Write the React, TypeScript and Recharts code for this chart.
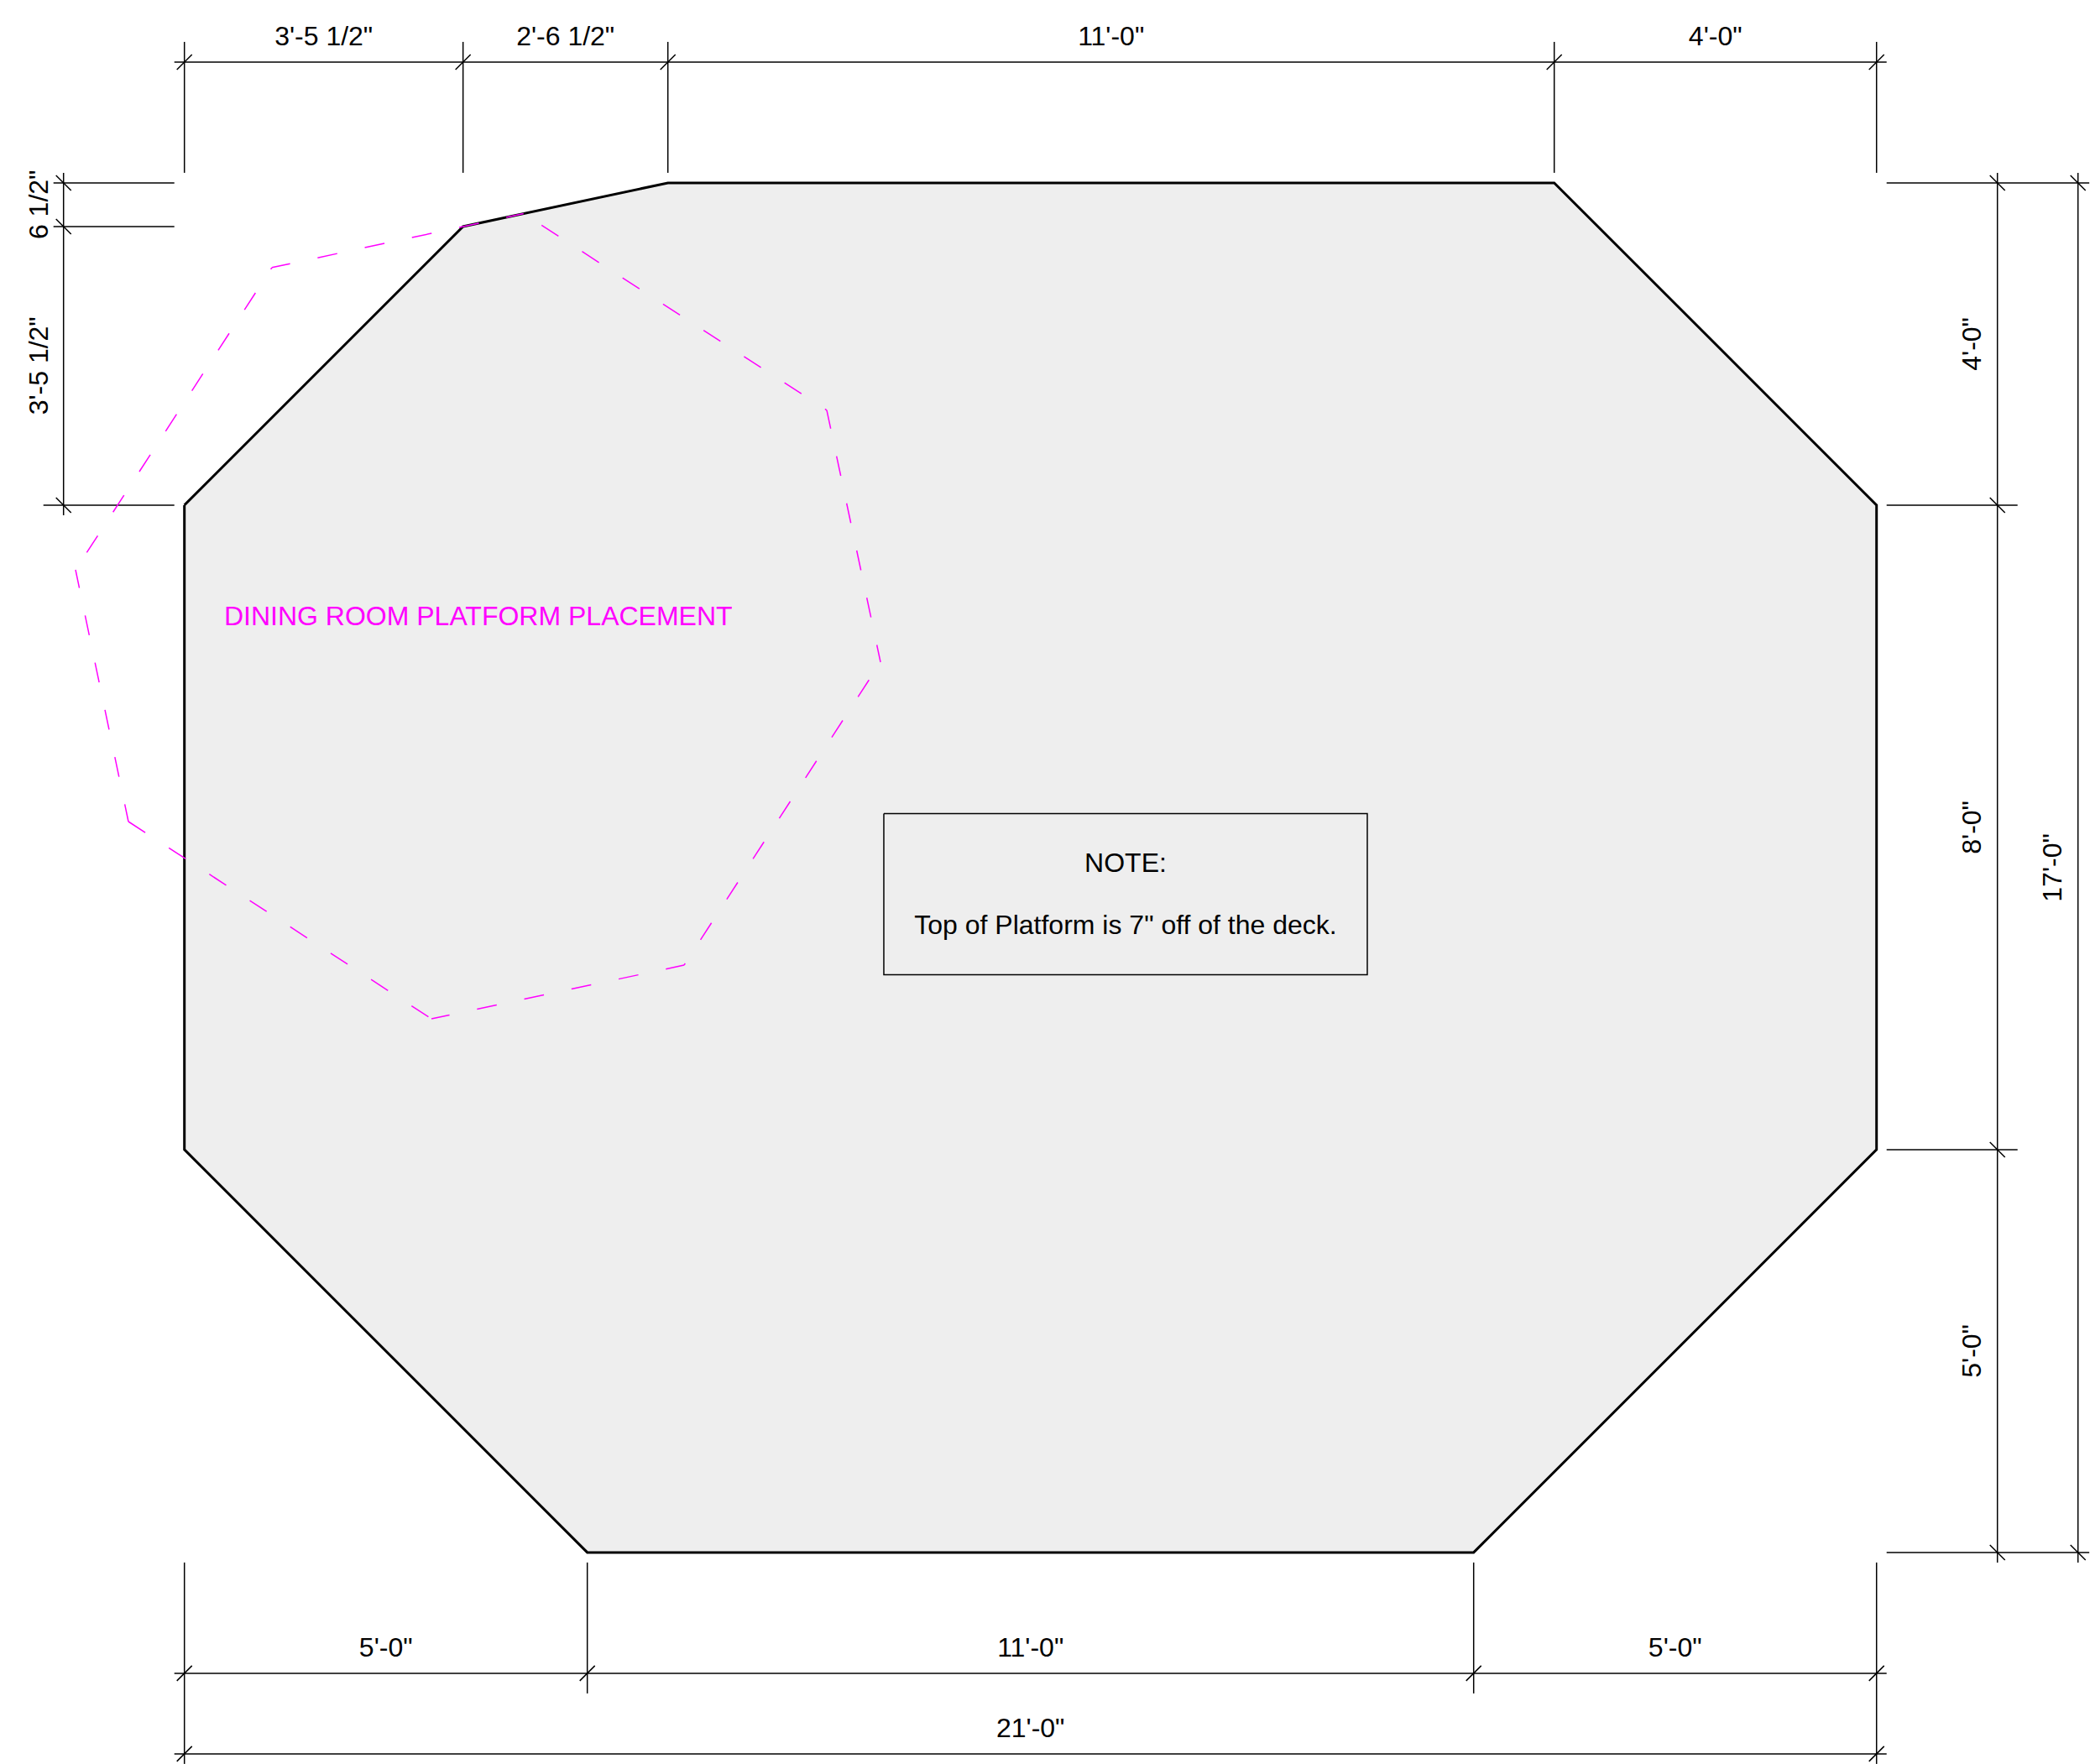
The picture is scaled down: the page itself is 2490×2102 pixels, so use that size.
import { Area, ComposedChart, Line, Scatter, XAxis, YAxis } from 'recharts';

// everything below is in feet, measured from the top left corner of the deck
const deckOutline = [
  { x: 0, y: 4 }, { x: 3.458, y: 0.5417 }, { x: 6, y: 0 }, { x: 17, y: 0 }, { x: 21, y: 4 },
  { x: 21, y: 12 }, { x: 16, y: 17 }, { x: 5, y: 17 }, { x: 0, y: 12 }, { x: 0, y: 4 },
];

const deckFill = [
  { x: 0, span: [4, 12] },
  { x: 3.458, span: [0.5417, 15.458] },
  { x: 5, span: [0.2131, 17] },
  { x: 6, span: [0, 17] },
  { x: 16, span: [0, 17] },
  { x: 17, span: [0, 16] },
  { x: 21, span: [4, 12] },
];

const platformOutline = [
  { x: -0.695, y: 7.928 }, { x: 3.066, y: 10.376 }, { x: 6.201, y: 9.71 }, { x: 8.639, y: 5.949 },
  { x: 7.972, y: 2.822 }, { x: 4.209, y: 0.381 }, { x: 1.086, y: 1.051 }, { x: -1.351, y: 4.803 },
  { x: -0.695, y: 7.928 },
];

const noteBox = [
  { x: 8.68, y: 7.83 }, { x: 14.68, y: 7.83 }, { x: 14.68, y: 9.83 }, { x: 8.68, y: 9.83 }, { x: 8.68, y: 7.83 },
];

// [x1, y1, x2, y2]
const dimensionLines = [
  [-0.125, -1.5, 21.125, -1.5],
  [-0.125, 18.5, 21.125, 18.5],
  [-0.125, 19.5, 21.125, 19.5],
  [-1.5, -0.125, -1.5, 4.125],
  [22.5, -0.125, 22.5, 17.125],
  [23.5, -0.125, 23.5, 17.125],
];

const extensionLines = [
  [0, -1.75, 0, -0.125],
  [3.458, -1.75, 3.458, -0.125],
  [6, -1.75, 6, -0.125],
  [17, -1.75, 17, -0.125],
  [21, -1.75, 21, -0.125],
  [0, 17.125, 0, 19.625],
  [5, 17.125, 5, 18.75],
  [16, 17.125, 16, 18.75],
  [21, 17.125, 21, 19.625],
  [-1.625, 0, -0.125, 0],
  [-1.625, 0.5417, -0.125, 0.5417],
  [-1.75, 4, -0.125, 4],
  [21.125, 0, 23.64, 0],
  [21.125, 4, 22.75, 4],
  [21.125, 12, 22.75, 12],
  [21.125, 17, 23.64, 17],
];

const forwardTicks = [
  { x: 0, y: -1.5 }, { x: 3.458, y: -1.5 }, { x: 6, y: -1.5 }, { x: 17, y: -1.5 }, { x: 21, y: -1.5 },
  { x: 0, y: 18.5 }, { x: 5, y: 18.5 }, { x: 16, y: 18.5 }, { x: 21, y: 18.5 },
  { x: 0, y: 19.5 }, { x: 21, y: 19.5 },
];

const backTicks = [
  { x: -1.5, y: 0 }, { x: -1.5, y: 0.5417 }, { x: -1.5, y: 4 },
  { x: 22.5, y: 0 }, { x: 22.5, y: 4 }, { x: 22.5, y: 12 }, { x: 22.5, y: 17 },
  { x: 23.5, y: 0 }, { x: 23.5, y: 17 },
];

const horizontalLabels = [
  { x: 1.729, y: -1.711, label: '3\'-5 1/2"' },
  { x: 4.729, y: -1.711, label: '2\'-6 1/2"' },
  { x: 11.5, y: -1.711, label: '11\'-0"' },
  { x: 19, y: -1.711, label: '4\'-0"' },
  { x: 2.5, y: 18.29, label: '5\'-0"' },
  { x: 10.5, y: 18.29, label: '11\'-0"' },
  { x: 18.5, y: 18.29, label: '5\'-0"' },
  { x: 10.5, y: 19.29, label: '21\'-0"' },
  { x: 11.68, y: 8.55, label: 'NOTE:' },
  { x: 11.68, y: 9.32, label: 'Top of Platform is 7" off of the deck.' },
];

const verticalLabels = [
  { x: -1.698, y: 0.27, label: '6 1/2"' },
  { x: -1.698, y: 2.27, label: '3\'-5 1/2"' },
  { x: 22.29, y: 2, label: '4\'-0"' },
  { x: 22.29, y: 8, label: '8\'-0"' },
  { x: 22.29, y: 14.5, label: '5\'-0"' },
  { x: 23.29, y: 8.5, label: '17\'-0"' },
];

const platformLabel = [{ x: 0.492, y: 5.487, label: 'DINING ROOM PLATFORM PLACEMENT' }];

const INK = '#000000';
const MAGENTA = '#ff00ff';
const FONT = '"Liberation Sans", Arial, sans-serif';

// the dashes restart on each edge of the platform, these are the offsets
const DASH = 24;
const GAP = 33.5;
const edgeDashStart = [0, -2, 36, -3, 36, -3, 36, -2];

const toPoints = ([x1, y1, x2, y2]: number[]) => [{ x: x1, y: y1 }, { x: x2, y: y2 }];

const slash = (dir: 1 | -1) => (props: any) => (
  <line
    x1={props.cx - 9}
    y1={props.cy + 9 * dir}
    x2={props.cx + 9}
    y2={props.cy - 9 * dir}
    stroke={INK}
    strokeWidth={1.5}
  />
);

const textShape = (color: string, vertical = false) => (props: any) => (
  <text
    x={props.cx}
    y={props.cy}
    fill={color}
    fontFamily={FONT}
    fontSize={32}
    textAnchor={color === MAGENTA ? 'start' : 'middle'}
    transform={vertical ? `rotate(-90 ${props.cx} ${props.cy})` : undefined}
  >
    {props.payload.label}
  </text>
);

export default function App() {
  const thin = (points: { x: number; y: number }[], key: string) => (
    <Line
      key={key}
      data={points}
      dataKey="y"
      stroke={INK}
      strokeWidth={1.5}
      dot={false}
      activeDot={false}
      isAnimationActive={false}
    />
  );

  return (
    <div style={{ position: 'absolute', left: 0, top: 0, width: 2490, height: 2102, background: '#fff' }}>
      <ComposedChart width={2490} height={2102} data={deckFill} margin={{ top: 0, right: 0, bottom: 0, left: 0 }}>
        <XAxis hide type="number" dataKey="x" domain={[-2.2885, 23.649]} allowDataOverflow />
        <YAxis hide type="number" reversed domain={[-2.27, 19.626]} allowDataOverflow />

        <Area dataKey="span" type="linear" fill="#eeeeee" fillOpacity={1} stroke="none" dot={false} activeDot={false} isAnimationActive={false} />

        {dimensionLines.map((d, i) => thin(toPoints(d), `dim-${i}`))}
        {extensionLines.map((d, i) => thin(toPoints(d), `ext-${i}`))}
        {thin(noteBox, 'note')}

        <Line data={deckOutline} dataKey="y" stroke={INK} strokeWidth={3} dot={false} activeDot={false} isAnimationActive={false} />
        {edgeDashStart.map((start, i) => (
          <Line
            key={`edge-${i}`}
            data={platformOutline.slice(i, i + 2)}
            dataKey="y"
            stroke={MAGENTA}
            strokeWidth={1.5}
            strokeDasharray={`${DASH} ${GAP}`}
            strokeDashoffset={(DASH + GAP - start) % (DASH + GAP)}
            dot={false}
            activeDot={false}
            isAnimationActive={false}
          />
        ))}

        <Scatter data={forwardTicks} dataKey="y" shape={slash(1)} isAnimationActive={false} />
        <Scatter data={backTicks} dataKey="y" shape={slash(-1)} isAnimationActive={false} />
        <Scatter data={horizontalLabels} dataKey="y" shape={textShape(INK)} isAnimationActive={false} />
        <Scatter data={verticalLabels} dataKey="y" shape={textShape(INK, true)} isAnimationActive={false} />
        <Scatter data={platformLabel} dataKey="y" shape={textShape(MAGENTA)} isAnimationActive={false} />
      </ComposedChart>
    </div>
  );
}
